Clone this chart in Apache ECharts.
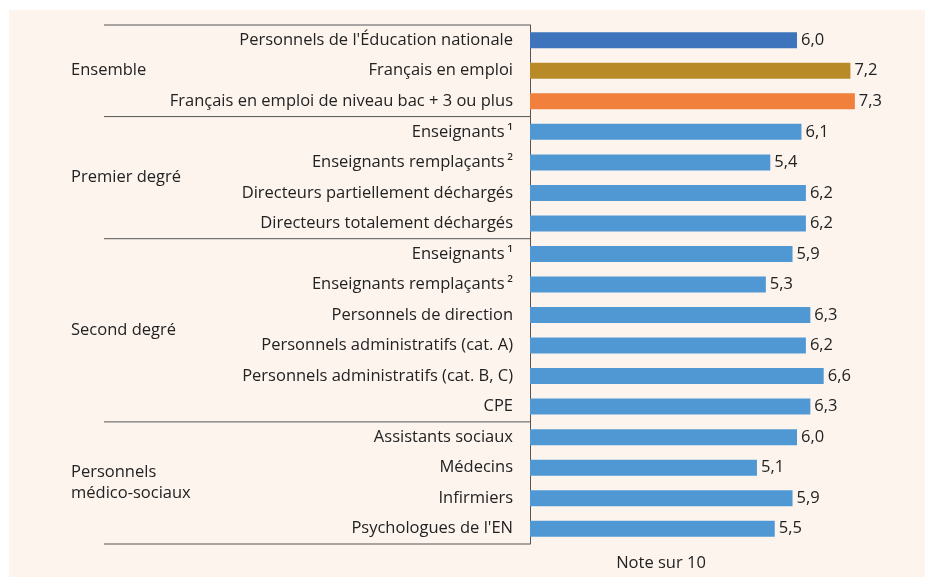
<!DOCTYPE html>
<html>
<head>
<meta charset="utf-8">
<script src="https://cdn.jsdelivr.net/npm/echarts@6/dist/echarts.min.js"></script>
<style>
    html, body { margin: 0; padding: 0; background: #fff; }
    .panel {
        position: absolute;
        left: 9px;
        top: 10px;
        width: 916px;
        height: 567px;
        background: #fdf4ee;
    }
    #chart {
        position: absolute;
        left: 0;
        top: 0;
        width: 925px;
        height: 577px;
    }
</style>
</head>
<body>
<div class="panel"></div>
<div id="chart"></div>
<script>
const categories = [
    "Personnels de l'Éducation nationale",
    'Français en emploi',
    'Français en emploi de niveau bac + 3 ou plus',
    'Enseignants\u2009¹',
    'Enseignants remplaçants\u2009²',
    'Directeurs partiellement déchargés',
    'Directeurs totalement déchargés',
    'Enseignants\u2009¹',
    'Enseignants remplaçants\u2009²',
    'Personnels de direction',
    'Personnels administratifs (cat. A)',
    'Personnels administratifs (cat. B, C)',
    'CPE',
    'Assistants sociaux',
    'Médecins',
    'Infirmiers',
    "Psychologues de l'EN"
]
const values = [6.0, 7.2, 7.3, 6.1, 5.4, 6.2, 6.2, 5.9, 5.3, 6.3, 6.2, 6.6, 6.3, 6.0, 5.1, 5.9, 5.5]
const groupNames = ['Ensemble', 'Premier degré', 'Second degré', 'Personnels\nmédico-sociaux']
const groupSizes = [3, 4, 6, 4]
const axisName = 'Note sur 10'

// couleurs des trois premières barres, les autres en bleu clair
const topColors = ['#3d74bb', '#b88b28', '#f0803c']
const baseColor = '#5098d3'
const textColor = '#222'
const font = 'Open Sans'
const fontSize = 16.5

const myChart = echarts.init(document.getElementById('chart'))

const option = {
    animation: false,
    grid: {
        left: 530,
        top: 25,
        width: 356,
        height: 519
    },
    xAxis: {
        type: 'value',
        min: 0,
        max: 8,
        show: false
    },
    yAxis: {
        type: 'category',
        inverse: true,
        data: categories,
        axisLine: { show: true, lineStyle: { color: '#555', width: 1 } },
        axisTick: { show: false },
        axisLabel: {
            margin: 17,
            color: textColor,
            fontSize: fontSize,
            fontFamily: font
        }
    },
    series: [
        {
            type: 'bar',
            data: values,
            barWidth: 16,
            itemStyle: {
                color: p => topColors[p.dataIndex] || baseColor
            },
            label: {
                show: true,
                position: 'right',
                distance: 4,
                color: textColor,
                fontSize: fontSize,
                fontFamily: font,
                formatter: p => p.value.toFixed(1).replace('.', ',')
            }
        }
    ]
}
myChart.setOption(option)

// séparateurs de groupes et libellés de groupes, placés avec l'échelle de l'axe
const yPix = i => myChart.convertToPixel({ yAxisIndex: 0 }, i)
const band = yPix(1) - yPix(0)
const boundary = k => yPix(0) - band / 2 + k * band
const axisX = myChart.convertToPixel({ xAxisIndex: 0 }, 0)
const textFont = fontSize + 'px "' + font + '"'

const elements = []
let start = 0
elements.push({
    type: 'line',
    shape: { x1: 104, y1: boundary(0), x2: axisX, y2: boundary(0) },
    style: { stroke: '#555', lineWidth: 1 }
})
groupNames.forEach((name, g) => {
    const end = start + groupSizes[g]
    elements.push({
        type: 'line',
        shape: { x1: 104, y1: boundary(end), x2: axisX, y2: boundary(end) },
        style: { stroke: '#555', lineWidth: 1 }
    })
    elements.push({
        type: 'text',
        x: 71,
        y: (boundary(start) + boundary(end)) / 2,
        style: {
            text: name,
            fill: textColor,
            font: textFont,
            textAlign: 'left',
            textVerticalAlign: 'middle',
            lineHeight: 21
        }
    })
    start = end
})
elements.push({
    type: 'text',
    x: 661,
    y: 563,
    style: {
        text: axisName,
        fill: textColor,
        font: textFont,
        textAlign: 'center',
        textVerticalAlign: 'middle'
    }
})
myChart.setOption({ graphic: { elements } })
</script>
</body>
</html>
